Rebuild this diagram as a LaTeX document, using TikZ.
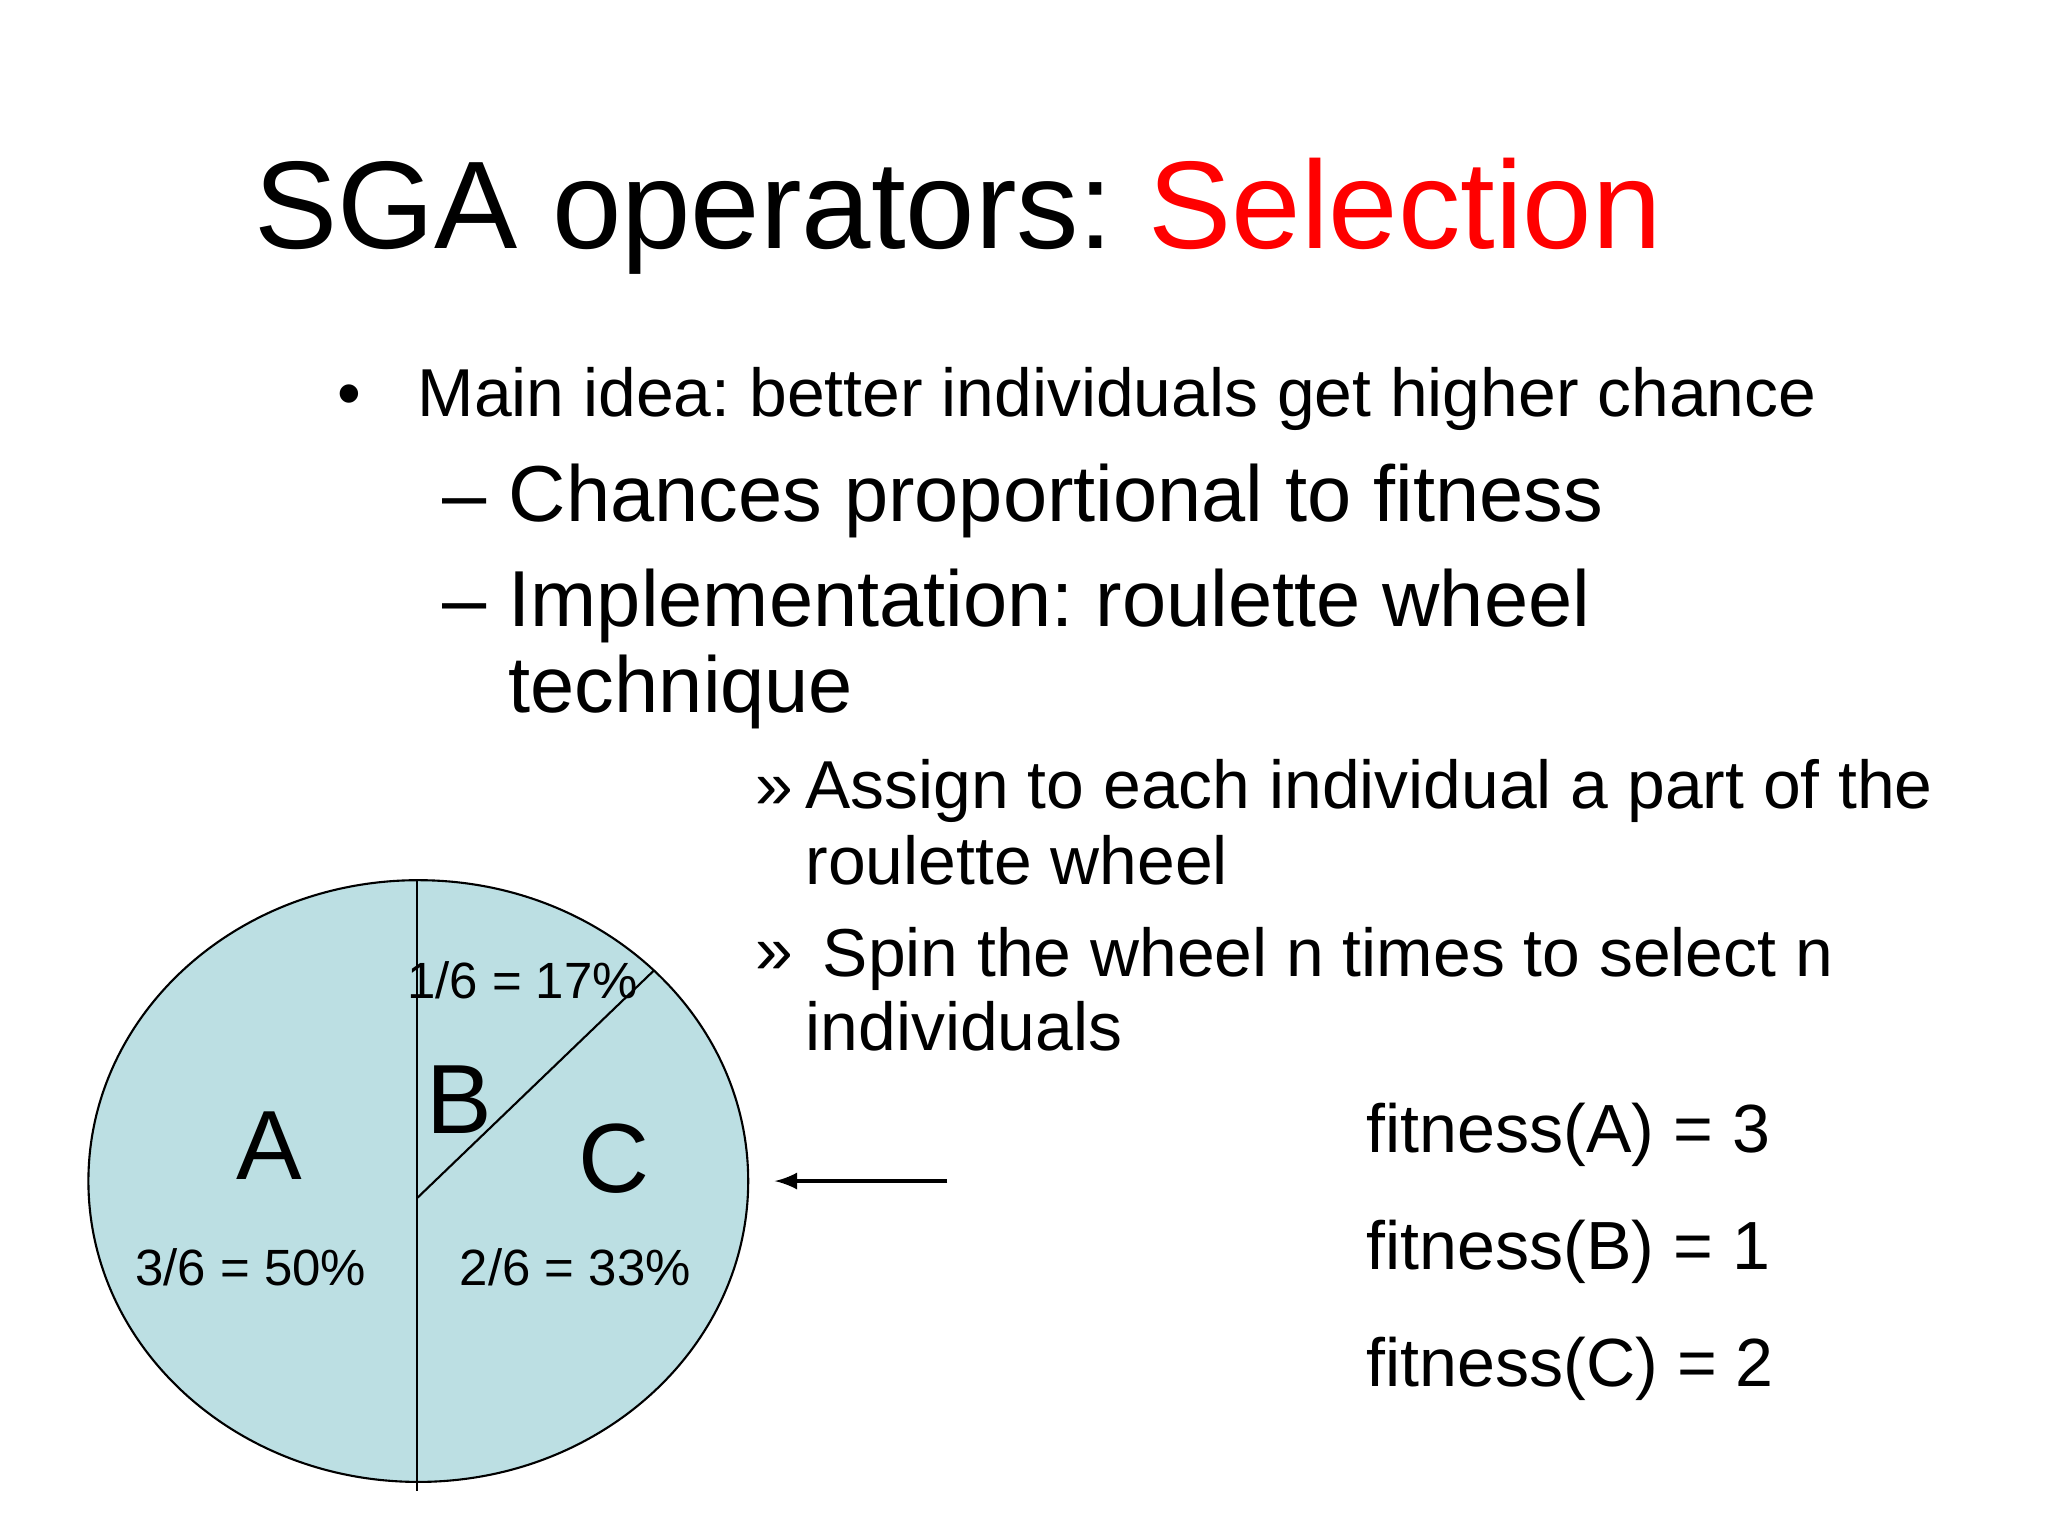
\documentclass[tikz,border=0pt]{standalone}
\usepackage{fontspec}
\setmainfont{Liberation Sans}
\frenchspacing
\definecolor{wheel}{HTML}{BCDFE3}
\definecolor{selred}{HTML}{FF0000}
\begin{document}
\begin{tikzpicture}[x=0.013196cm,y=-0.013196cm,
  txt/.style={anchor=base west,inner sep=0pt},
  f1/.style={font=\fontsize{19.3}{22}\selectfont},
  f2/.style={font=\fontsize{22.6}{26}\selectfont},
  ff/.style={font=\fontsize{19.4}{22}\selectfont},
  lab/.style={font=\fontsize{14.5}{17}\selectfont,inner sep=0pt},
  big/.style={font=\fontsize{28}{32}\selectfont,inner sep=0pt}]
\useasboundingbox[fill=white] (0,0) rectangle (1552,1164);
\node[txt,font=\fontsize{35.5}{40}\selectfont] (title) at (192,188) {SGA operators: \textcolor{selred}{Selection}};
\node[txt,f1] (b0) at (255,316) {\textbullet};
\node[txt,f1] (b1) at (316,316) {Main idea: better individuals get higher chance};
\node[txt,f2] (d1) at (335,395) {–};
\node[txt,f2] (c1) at (385,395) {Chances proportional to fitness};
\node[txt,f2] (d2) at (335,475) {–};
\node[txt,f2] (c2) at (385,475) {Implementation: roulette wheel};
\node[txt,f2] (c3) at (385,540) {technique};
\node[txt,f1] (r1) at (572,613) {»};
\node[txt,f1] (s1) at (610,613) {Assign to each individual a part of the};
\node[txt,f1] (s2) at (610,670) {roulette wheel};
\node[txt,f1] (r2) at (572,738) {»};
\node[txt,f1] (s3) at (623,740) {Spin the wheel n times to select n};
\node[txt,f1] (s4) at (610,796) {individuals};
\node[txt,ff] (fa) at (1035,873) {fitness(A) = 3};
\node[txt,ff] (fb) at (1035,962) {fitness(B) = 1};
\node[txt,ff] (fc) at (1035,1051) {fitness(C) = 2};
\draw[fill=wheel,line width=0.6pt] (317,895) ellipse [x radius=250,y radius=228];
\coordinate (top) at (316,667);
\coordinate (bot) at (316,1130);
\coordinate (ctr) at (316,908);
\coordinate (rim) at (496,735);
\draw[line width=0.6pt] (top) -- (bot);
\draw[line width=0.6pt] (ctr) -- (rim);
\node[big] (la) at (204,868) {A};
\node[big] (lb) at (348,833) {B};
\node[big] (lc) at (465,878) {C};
\node[lab] (pa) at (190,960) {3/6 = 50\%};
\node[lab] (pc) at (436,960) {2/6 = 33\%};
\node[lab] (pb) at (396,743) {1/6 = 17\%};
\coordinate (as) at (718,895);
\coordinate (ae) at (587,895);
\draw[line width=1.2pt,-latex] (as) -- (ae);
\end{tikzpicture}
\end{document}
